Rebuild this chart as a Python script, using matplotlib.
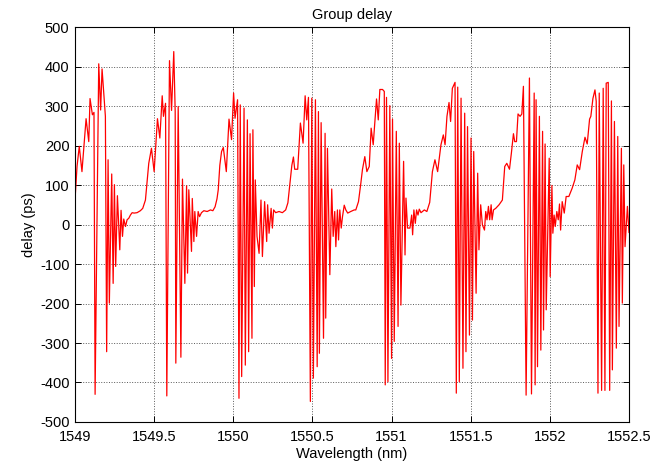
import matplotlib
matplotlib.use("Agg")
import matplotlib.pyplot as plt

plt.rcParams['font.family'] = ['Liberation Sans', 'DejaVu Sans']
plt.rcParams['axes.unicode_minus'] = False

# Measured group delay across the grating passband (wavelength in nm, delay in ps)
wavelength_nm = [
    1549.000, 1549.013, 1549.027, 1549.044, 1549.070, 1549.087, 1549.095, 1549.110,
    1549.120, 1549.127, 1549.150, 1549.162, 1549.171, 1549.192, 1549.200, 1549.209,
    1549.217, 1549.232, 1549.241, 1549.249, 1549.257, 1549.268, 1549.283, 1549.291,
    1549.300, 1549.308, 1549.319, 1549.329, 1549.340, 1549.350, 1549.361, 1549.373,
    1549.392, 1549.413, 1549.428, 1549.445,
    1549.466, 1549.483, 1549.500, 1549.521, 1549.536, 1549.551, 1549.559, 1549.572,
    1549.580, 1549.597, 1549.610, 1549.624, 1549.633, 1549.637, 1549.652, 1549.669,
    1549.679, 1549.694, 1549.705, 1549.711, 1549.719, 1549.736, 1549.741, 1549.751,
    1549.757, 1549.768, 1549.778, 1549.787, 1549.799, 1549.814, 1549.835, 1549.856,
    1549.871, 1549.885, 1549.897, 1549.905, 1549.915, 1549.926, 1549.937, 1549.956,
    1549.973, 1549.989, 1550.002, 1550.011, 1550.027, 1550.036, 1550.044, 1550.053,
    1550.068, 1550.076, 1550.089, 1550.097, 1550.106, 1550.118, 1550.124, 1550.133,
    1550.139, 1550.150, 1550.163, 1550.175, 1550.184, 1550.198, 1550.211, 1550.217,
    1550.226, 1550.239, 1550.247, 1550.255, 1550.268, 1550.289, 1550.310,
    1550.331, 1550.345, 1550.356, 1550.370, 1550.380, 1550.388, 1550.407, 1550.424,
    1550.441, 1550.454, 1550.464, 1550.475, 1550.487, 1550.496, 1550.506, 1550.519,
    1550.530, 1550.538, 1550.544, 1550.555, 1550.570, 1550.580, 1550.584, 1550.595,
    1550.610, 1550.622, 1550.631, 1550.641, 1550.648, 1550.658, 1550.665, 1550.673,
    1550.682, 1550.690, 1550.701, 1550.711, 1550.723, 1550.742, 1550.764,
    1550.774, 1550.791, 1550.806, 1550.816, 1550.831, 1550.844, 1550.859, 1550.871,
    1550.884, 1550.905, 1550.916, 1550.926, 1550.943, 1550.954, 1550.960, 1550.968,
    1550.977, 1550.989, 1551.000, 1551.006, 1551.017, 1551.030, 1551.041, 1551.049,
    1551.059, 1551.076, 1551.085, 1551.091, 1551.101, 1551.116, 1551.127, 1551.133,
    1551.141, 1551.150, 1551.158, 1551.167, 1551.175, 1551.186, 1551.207,
    1551.223, 1551.241, 1551.258, 1551.274, 1551.291, 1551.312, 1551.327, 1551.338,
    1551.350, 1551.363, 1551.373, 1551.384, 1551.401, 1551.409, 1551.418, 1551.428,
    1551.439, 1551.451, 1551.462, 1551.470, 1551.480, 1551.492, 1551.502, 1551.511,
    1551.519, 1551.534, 1551.544, 1551.552, 1551.563, 1551.574, 1551.587, 1551.595,
    1551.603, 1551.612, 1551.620, 1551.629, 1551.635, 1551.644,
    1551.658, 1551.679, 1551.700, 1551.715, 1551.728, 1551.745, 1551.757, 1551.770,
    1551.778, 1551.789, 1551.799, 1551.812, 1551.823, 1551.833, 1551.850, 1551.871,
    1551.884, 1551.901, 1551.907, 1551.913, 1551.922, 1551.934, 1551.943, 1551.954,
    1551.960, 1551.970, 1551.977, 1551.996, 1552.002, 1552.013, 1552.019, 1552.027,
    1552.034, 1552.044, 1552.053, 1552.061, 1552.068, 1552.078, 1552.091, 1552.103,
    1552.120, 1552.141, 1552.158, 1552.173, 1552.188, 1552.205, 1552.222, 1552.236,
    1552.251, 1552.259, 1552.272, 1552.285, 1552.293, 1552.304, 1552.312, 1552.327,
    1552.337, 1552.348, 1552.356, 1552.369, 1552.378, 1552.389, 1552.395, 1552.408,
    1552.420, 1552.429, 1552.437, 1552.452, 1552.458, 1552.467, 1552.475, 1552.490,
    1552.500,
]

delay_ps = [
    62, 148, 198, 134, 268, 210, 319, 278,
    284, -430, 407, 290, 394, 274, -322, 164,
    -199, 128, -149, 101, -106, 73, -64, 36,
    -30, 14, -5, 12, 16, 24, 30, 29,
    30, 35, 41, 62,
    155, 193, 134, 268, 219, 326, 274, 307,
    -434, 415, 289, 438, 286, -351, 299, -336,
    115, -149, 98, -123, 88, -68, 66, -43,
    33, -30, 33, 20, 30, 35, 33, 37,
    35, 45, 65, 88, 150, 185, 195, 134,
    267, 215, 333, 269, 316, -440, 303, -385,
    295, -356, 265, -322, 230, -288, 240, -157,
    113, -30, -73, 62, -81, 58, -43, 50,
    -22, 41, -9, 37, 30, 33, 30,
    37, 55, 96, 150, 171, 140, 140, 257,
    206, 326, 265, 322, -448, 320, -389, 316,
    -360, 286, -326, 258, -288, 231, -237, 193,
    -127, 90, -30, 33, -56, 37, -39, 37,
    -9, 20, 49, 37, 29, 33, 37,
    37, 58, 105, 139, 172, 134, 147, 244,
    202, 318, 265, 342, 342, 337, -406, 322,
    -398, 301, -339, 267, -296, 236, -258, 206,
    -204, 160, -77, 67, -9, -9, 24, -26,
    37, 3, 37, 24, 39, 30, 37,
    33, 56, 134, 164, 134, 202, 227, 202,
    274, 309, 261, 345, 360, -427, 348, -398,
    320, -364, 282, -322, 248, -280, 219, -242,
    185, -174, 130, -64, 50, -1, -14, 33,
    12, 46, 12, 50, 12, 37,
    41, 50, 62, 147, 155, 140, 181, 230,
    210, 210, 280, 274, 280, 350, -432, 371,
    -429, 333, -406, 316, -360, 274, -318, 236,
    -267, 204, -216, 168, -132, 99, -22, 24,
    -5, 33, 12, 52, -14, 58, 29, 71,
    71, 92, 113, 151, 139, 185, 221, 204,
    267, 274, 319, 341, 312, -427, 333, -420,
    345, -420, 358, 360, -420, 313, -368, 261,
    -313, 223, -258, 193, -199, 151, -56, 46,
    -20,
]

x_ticks = [1549, 1549.5, 1550, 1550.5, 1551, 1551.5, 1552, 1552.5]
x_tick_labels = ['1549', '1549.5', '1550', '1550.5', '1551', '1551.5', '1552', '1552.5']
y_ticks = [-500, -400, -300, -200, -100, 0, 100, 200, 300, 400, 500]

fig = plt.figure(figsize=(6.72, 4.67), dpi=100)
ax = fig.add_axes([0.1116, 0.0964, 0.8244, 0.8456])

ax.plot(wavelength_nm, delay_ps, color='red', linewidth=0.9)

ax.set_xlim(1549, 1552.5)
ax.set_ylim(-500, 500)
ax.set_xticks(x_ticks)
ax.set_xticklabels(x_tick_labels)
ax.set_yticks(y_ticks)

ax.grid(True, linestyle=':', color='0.35', linewidth=0.7)
ax.tick_params(direction='in', length=4, width=0.7, top=True, right=True,
               labelsize=10.5, colors='black')
ax.tick_params(axis='x', pad=6)
ax.tick_params(axis='y', pad=4)
for s in ax.spines.values():
    s.set_linewidth(0.8)
    s.set_color('black')

ax.set_title('Group delay', fontsize=10.5, pad=6)
ax.set_xlabel('Wavelength (nm)', fontsize=10.5, labelpad=2)
ax.set_ylabel('delay (ps)', fontsize=10.5, labelpad=3)

fig.savefig('out.png', dpi=100, facecolor='white')
